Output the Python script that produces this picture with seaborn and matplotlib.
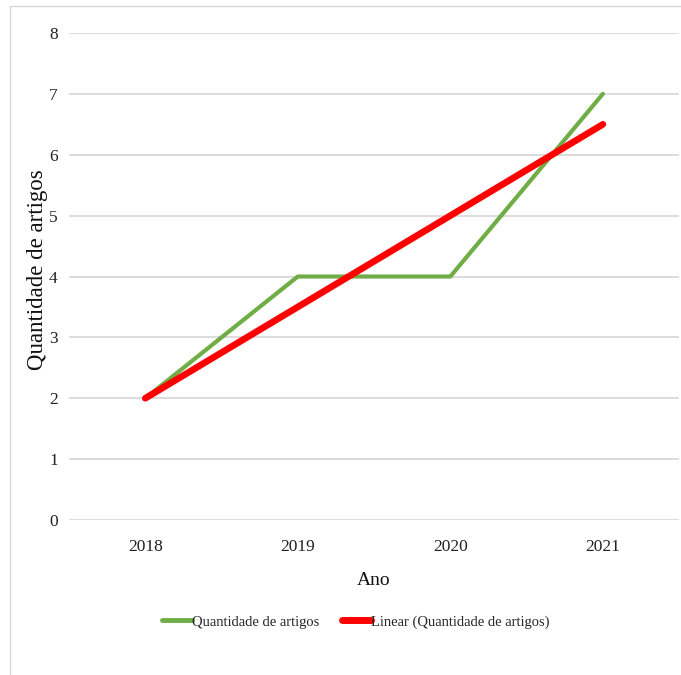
import matplotlib
matplotlib.use("Agg")
import matplotlib.pyplot as plt
import seaborn as sns
import pandas as pd
import numpy as np
from matplotlib.lines import Line2D

# Number of articles per year
anos = ["2018", "2019", "2020", "2021"]
quantidade = [2, 4, 4, 7]
# Linear trend of the article count
tendencia = [2.0, 3.5, 5.0, 6.5]
yticks = [0, 1, 2, 3, 4, 5, 6, 7, 8]

sns.set_theme(style="white")
plt.rcParams["font.family"] = ["Liberation Serif", "DejaVu Serif"]

df = pd.DataFrame({"Ano": anos, "Quantidade": quantidade, "Linear": tendencia})
df["pos"] = np.arange(len(anos))

fig = plt.figure(figsize=(6.81, 6.75), dpi=100)
ax = fig.add_axes([0.1013, 0.2296, 0.896, 0.7215])

verde = "#70AD47"
vermelho = "#FF0000"

sns.lineplot(data=df, x="pos", y="Quantidade", ax=ax, color=verde,
             linewidth=3.0, solid_capstyle="round", zorder=3)
sns.lineplot(data=df, x="pos", y="Linear", ax=ax, color=vermelho,
             linewidth=4.8, solid_capstyle="round", zorder=4)

ax.set_xlim(-0.5, len(anos) - 0.5)
ax.set_ylim(0, 8)
ax.set_xticks(df["pos"])
ax.set_xticklabels(anos)
ax.set_yticks(yticks)
ax.set_yticklabels([str(v) for v in yticks])
ax.tick_params(axis="both", length=0, labelsize=12.5, colors="#222222")
ax.tick_params(axis="x", pad=14)
ax.tick_params(axis="y", pad=8)

ax.grid(axis="y", color="#d9d9d9", linewidth=1.3)
ax.set_axisbelow(True)
for s in ax.spines.values():
    s.set_visible(False)

ax.set_xlabel("Ano", fontsize=14, color="#111111", labelpad=12)
ax.set_ylabel("Quantidade de artigos", fontsize=16.5, color="#111111")
ax.yaxis.set_label_coords(-0.035, 0.515)

handles = [Line2D([], [], color=verde, linewidth=3.5),
           Line2D([], [], color=vermelho, linewidth=5)]
fig.legend(handles, ["Quantidade de artigos", "Linear (Quantidade de artigos)"],
           loc="center", bbox_to_anchor=(0.523, 1 - 622 / 675), ncol=2,
           frameon=False, fontsize=10.5, handlelength=2.0, handletextpad=0.0,
           columnspacing=1.6)

# outer chart border
fig.add_artist(plt.Rectangle((9.5 / 681, -0.01), 1.0, 1 - 5.5 / 675 + 0.01,
                             transform=fig.transFigure, fill=False,
                             edgecolor="#d9d9d9", linewidth=1.0))

fig.savefig("out.png", dpi=100)
